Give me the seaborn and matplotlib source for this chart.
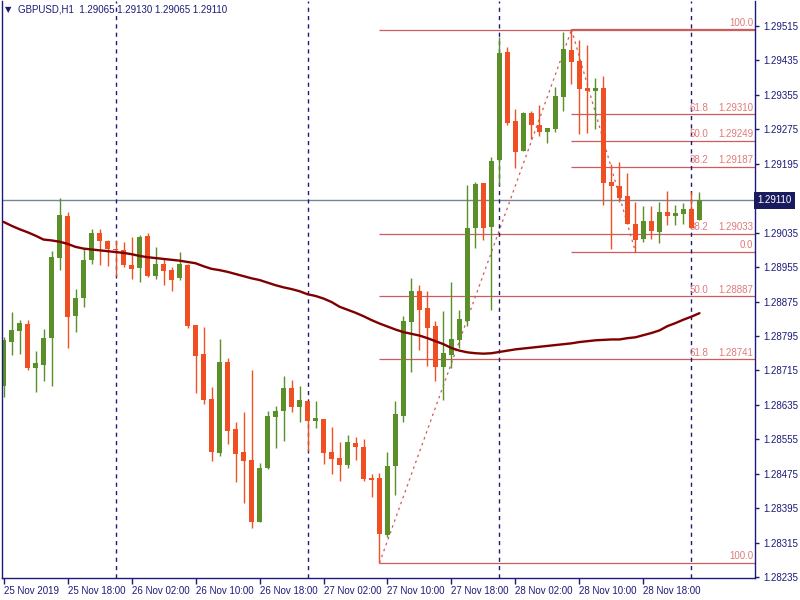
import numpy as np
import pandas as pd
import seaborn as sns
import matplotlib.pyplot as plt
import matplotlib.transforms as mtransforms

# chart data: GBPUSD H1, one entry per bar
symbol = 'GBPUSD,H1'
last_ohlc = ['1.29065', '1.29130', '1.29065', '1.29110']

opens = [
    1.28679, 1.28781, 1.28807, 1.28823, 1.28721, 1.28728, 1.28790, 1.28976, 1.29074, 1.28841,
    1.28883, 1.28971, 1.29034, 1.29016, 1.28997, 1.28995, 1.28960, 1.28953, 1.29027, 1.28934,
    1.28962, 1.28948, 1.28930, 1.28960, 1.28820, 1.28753, 1.28649, 1.28523, 1.28734, 1.28579,
    1.28525, 1.28507, 1.28363, 1.28488, 1.28607, 1.28621, 1.28674, 1.28630, 1.28644, 1.28597,
    1.28602, 1.28525, 1.28511, 1.28495, 1.28546, 1.28537, 1.28465, 1.28465, 1.28333, 1.28493,
    1.28609, 1.28827, 1.28899, 1.28860, 1.28818, 1.28723, 1.28751, 1.28786, 1.28830, 1.29046,
    1.29150, 1.29048, 1.29204, 1.29455, 1.29294, 1.29225, 1.29313, 1.29285, 1.29269, 1.29276,
    1.29350, 1.29459, 1.29434, 1.29371, 1.29364, 1.29371, 1.29153, 1.29143, 1.29120, 1.29055,
    1.29020, 1.29062, 1.29036, 1.29083, 1.29074, 1.29078, 1.29090, 1.29065]
highs = [
    1.28793, 1.28851, 1.28832, 1.28832, 1.28760, 1.28811, 1.28992, 1.29115, 1.29083, 1.28904,
    1.28997, 1.29043, 1.29043, 1.29018, 1.29018, 1.29013, 1.29025, 1.29030, 1.29034, 1.29002,
    1.28974, 1.28955, 1.28990, 1.28962, 1.28820, 1.28816, 1.28676, 1.28788, 1.28744, 1.28595,
    1.28618, 1.28716, 1.28500, 1.28621, 1.28632, 1.28702, 1.28693, 1.28679, 1.28644, 1.28644,
    1.28602, 1.28583, 1.28549, 1.28565, 1.28560, 1.28556, 1.28474, 1.28477, 1.28525, 1.28644,
    1.28841, 1.28930, 1.28913, 1.28899, 1.28830, 1.28853, 1.28920, 1.28855, 1.29146, 1.29153,
    1.29150, 1.29211, 1.29489, 1.29466, 1.29322, 1.29315, 1.29318, 1.29332, 1.29278, 1.29373,
    1.29501, 1.29507, 1.29482, 1.29471, 1.29394, 1.29399, 1.29194, 1.29199, 1.29174, 1.29106,
    1.29097, 1.29097, 1.29106, 1.29132, 1.29099, 1.29104, 1.29129, 1.29130]
lows = [
    1.28653, 1.28751, 1.28753, 1.28716, 1.28665, 1.28690, 1.28679, 1.28948, 1.28767, 1.28804,
    1.28862, 1.28962, 1.28960, 1.28957, 1.28934, 1.28955, 1.28927, 1.28920, 1.28932, 1.28927,
    1.28913, 1.28899, 1.28925, 1.28813, 1.28662, 1.28637, 1.28504, 1.28516, 1.28544, 1.28456,
    1.28407, 1.28349, 1.28363, 1.28486, 1.28535, 1.28551, 1.28618, 1.28595, 1.28528, 1.28581,
    1.28498, 1.28474, 1.28458, 1.28488, 1.28507, 1.28458, 1.28421, 1.28268, 1.28328, 1.28426,
    1.28595, 1.28711, 1.28762, 1.28725, 1.28690, 1.28646, 1.28721, 1.28767, 1.28818, 1.28999,
    1.29018, 1.28855, 1.29146, 1.29285, 1.29185, 1.29225, 1.29253, 1.29260, 1.29243, 1.29269,
    1.29318, 1.29380, 1.29264, 1.29266, 1.29276, 1.29099, 1.28997, 1.29106, 1.29055, 1.28990,
    1.29013, 1.29020, 1.29011, 1.29053, 1.29053, 1.29055, 1.29046, 1.29065]
closes = [
    1.28786, 1.28809, 1.28825, 1.28721, 1.28732, 1.28790, 1.28978, 1.29076, 1.28839, 1.28883,
    1.28971, 1.29034, 1.29016, 1.28997, 1.28995, 1.28960, 1.28951, 1.29025, 1.28934, 1.28962,
    1.28946, 1.28925, 1.28962, 1.28818, 1.28748, 1.28646, 1.28525, 1.28734, 1.28574, 1.28521,
    1.28504, 1.28363, 1.28488, 1.28609, 1.28621, 1.28674, 1.28630, 1.28646, 1.28597, 1.28604,
    1.28523, 1.28509, 1.28495, 1.28549, 1.28537, 1.28463, 1.28460, 1.28335, 1.28493, 1.28614,
    1.28830, 1.28899, 1.28855, 1.28813, 1.28723, 1.28755, 1.28788, 1.28834, 1.29046, 1.29148,
    1.29046, 1.29201, 1.29452, 1.29290, 1.29222, 1.29313, 1.29285, 1.29269, 1.29278, 1.29352,
    1.29462, 1.29431, 1.29369, 1.29364, 1.29371, 1.29150, 1.29143, 1.29115, 1.29055, 1.29018,
    1.29062, 1.29039, 1.29083, 1.29074, 1.29081, 1.29090, 1.29046, 1.29110]
moving_avg = [
    1.29060, 1.29051, 1.29043, 1.29036, 1.29028, 1.29019, 1.29017, 1.29014, 1.29009, 1.29002,
    1.28998, 1.28996, 1.28994, 1.28992, 1.28990, 1.28988, 1.28985, 1.28981, 1.28978, 1.28976,
    1.28974, 1.28972, 1.28970, 1.28967, 1.28964, 1.28957, 1.28951, 1.28948, 1.28944, 1.28939,
    1.28934, 1.28929, 1.28925, 1.28919, 1.28913, 1.28908, 1.28904, 1.28899, 1.28892, 1.28888,
    1.28882, 1.28874, 1.28863, 1.28856, 1.28849, 1.28841, 1.28832, 1.28824, 1.28817, 1.28810,
    1.28804, 1.28800, 1.28796, 1.28790, 1.28783, 1.28776, 1.28767, 1.28761, 1.28757, 1.28755,
    1.28754, 1.28755, 1.28758, 1.28761, 1.28764, 1.28766, 1.28768, 1.28770, 1.28772, 1.28774,
    1.28776, 1.28778, 1.28781, 1.28783, 1.28785, 1.28786, 1.28787, 1.28787, 1.28790, 1.28792,
    1.28797, 1.28802, 1.28808, 1.28818, 1.28825, 1.28833, 1.28840, 1.28848]

tick_bars = [0, 8, 16, 24, 32, 40, 48, 56, 64, 72, 80]
tick_labels = ['25 Nov 2019', '25 Nov 18:00', '26 Nov 02:00', '26 Nov 10:00', '26 Nov 18:00',
               '27 Nov 02:00', '27 Nov 10:00', '27 Nov 18:00', '28 Nov 02:00', '28 Nov 10:00',
               '28 Nov 18:00']
separator_bars = [14, 38, 62, 86]
price_ticks = [1.28235, 1.28315, 1.28395, 1.28475, 1.28555, 1.28635, 1.28715, 1.28795,
               1.28875, 1.28955, 1.29035, 1.29195, 1.29275, 1.29355, 1.29435, 1.29515]
last_price = 1.29110

# fibonacci retracements: anchors (bar, price) and levels
fib1_anchor = [(47, 1.28268), (71, 1.29506)]
fib1_levels = ['38.2', '50.0', '61.8', '100.0']
fib1_prices = [1.29033, 1.28887, 1.28741, 1.28268]
fib1_top = 1.29506
fib2_anchor = [(71, 1.29507), (79, 1.28990)]
fib2_levels = ['0.0', '38.2', '50.0', '61.8', '100.0']
fib2_prices = [1.28990, 1.29187, 1.29249, 1.29310, 1.29507]

df = pd.DataFrame({'open': opens, 'high': highs, 'low': lows, 'close': closes, 'ma': moving_avg})
df['bar'] = np.arange(len(df))

sns.set_style('white')
plt.rcParams['font.family'] = ['Liberation Sans', 'DejaVu Sans']

navy = '#1b1b78'
green = '#5a8f29'
red = '#f04e23'
fibc = '#cd5c5c'
fibt = '#e07a7a'

fig = plt.figure(figsize=(8, 6), dpi=100)
ax = fig.add_axes([2 / 800, 22 / 600, 753 / 800, 577 / 600])
ax.set_xlim(-0.19, 93.94)
ax.set_ylim(1.28233, 1.29573)

# current price line
ax.axhline(last_price, color='#778492', lw=1.0, zorder=1)

# fib 1
x0 = fib1_anchor[0][0]
ax.hlines(fib1_prices + [fib1_top], x0, 93.94, color=fibc, lw=0.9, zorder=1)
ax.plot([fib1_anchor[0][0], fib1_anchor[1][0]], [fib1_anchor[0][1], fib1_anchor[1][1]],
        color=fibc, lw=0.9, ls=(0, (2, 3)), zorder=1)
# fib 2
x0 = fib2_anchor[0][0]
ax.hlines(fib2_prices, x0, 93.94, color=fibc, lw=0.9, zorder=1)
ax.plot([fib2_anchor[0][0], fib2_anchor[1][0]], [fib2_anchor[0][1], fib2_anchor[1][1]],
        color=fibc, lw=0.9, ls=(0, (2, 3)), zorder=1)

trans = mtransforms.blended_transform_factory(ax.transAxes, ax.transData)
for lvl, pr in list(zip(fib1_levels, fib1_prices)) + list(zip(fib2_levels, fib2_prices)):
    if lvl in ('0.0', '100.0'):
        ax.text(0.9973, pr + 0.00004, lvl, transform=trans, ha='right', va='bottom',
                fontsize=7, color=fibt, zorder=1.8)
    else:
        ax.text(0.9376, pr + 0.00004, lvl, transform=trans, ha='right', va='bottom',
                fontsize=7, color=fibt, zorder=1.8)
        ax.text(0.9973, pr + 0.00004, f'{pr:.5f}', transform=trans, ha='right', va='bottom',
                fontsize=7, color=fibt, zorder=1.8)

# period separators
for b in separator_bars:
    ax.axvline(b, color=navy, lw=1.0, ls=(0, (3, 3)), zorder=1.5)

# candles
up = df['close'] >= df['open']
cols = np.where(up, green, red)
body_lo = np.minimum(df['open'], df['close'])
body_h = np.maximum(np.abs(df['close'] - df['open']), 0.00002)
ax.vlines(df['bar'], df['low'], df['high'], colors=cols, lw=1.0, zorder=2)
ax.bar(df['bar'], body_h, bottom=body_lo, width=0.625, color=cols, lw=0, zorder=2.5)

# moving average
sns.lineplot(data=df, x='bar', y='ma', ax=ax, color='#800000', lw=1.7, zorder=4)

# axes styling
ax.spines['top'].set_visible(False)
for s in ['left', 'right', 'bottom']:
    ax.spines[s].set_color(navy)
    ax.spines[s].set_linewidth(1.0)
ax.yaxis.tick_right()
ax.set_yticks(price_ticks)
ax.set_yticklabels([f'{p:.5f}' for p in price_ticks])
ax.set_xticks(tick_bars)
ax.set_xticklabels(tick_labels, ha='left')
ax.tick_params(axis='y', which='both', right=True, left=False, length=3, width=1,
               color=navy, labelcolor=navy, labelsize=7, pad=3)
ax.tick_params(axis='x', bottom=True, length=4, width=1, color=navy, labelcolor=navy,
               labelsize=7, pad=2)
ax.set_xlabel('')
ax.set_ylabel('')
ax.grid(False)

# current price box on the right axis
ax.text(1.003, last_price, f'{last_price:.5f}', transform=trans, ha='left', va='center',
        fontsize=7, color='white', zorder=6, clip_on=False,
        bbox=dict(boxstyle='square,pad=0.35', facecolor='#1a1a5e', edgecolor='none'))

# header text
fig.text(5 / 800, 1 - 10 / 600, '\u25bc', fontsize=6, color=navy, va='center', ha='left',
         family=['DejaVu Sans'])
fig.text(18 / 800, 1 - 10 / 600, f'{symbol}  ' + ' '.join(last_ohlc), fontsize=7,
         color=navy, va='center', ha='left')

fig.savefig('out.png', dpi=100)
